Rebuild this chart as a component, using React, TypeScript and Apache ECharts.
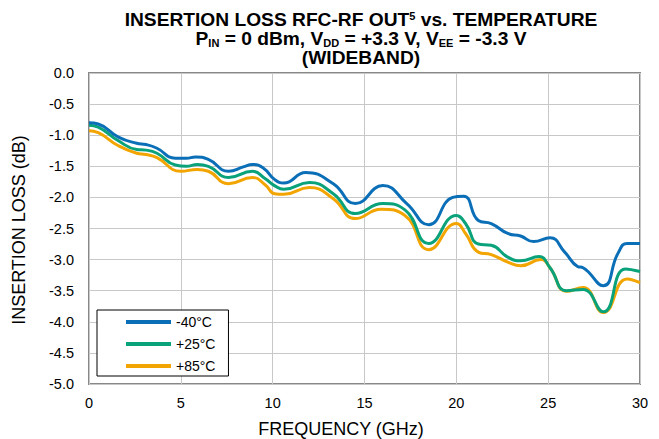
import React, { useEffect, useRef } from "react";
import * as echarts from "echarts";

const xTicks = [0, 5, 10, 15, 20, 25, 30];
const yTickLabels = ["0.0", "-0.5", "-1.0", "-1.5", "-2.0", "-2.5", "-3.0", "-3.5", "-4.0", "-4.5", "-5.0"];
const seriesNames = ["-40°C", "+25°C", "+85°C"];
const seriesColors = ["#0b6fb8", "#0aa27a", "#f2a500"];
const xAxisName = "FREQUENCY (GHz)";
const yAxisName = "INSERTION LOSS (dB)";

const minus40: [number, number][] = [
  [0, -0.80], [0.5, -0.82], [1.6, -1.03], [2.6, -1.13], [3.1, -1.15], [3.7, -1.21], [4.7, -1.37],
  [5.3, -1.37], [5.8, -1.35], [6.5, -1.39], [7.6, -1.58], [8.4, -1.51], [8.9, -1.47],
  [9.5, -1.53], [10.1, -1.71], [10.6, -1.77], [11.8, -1.6], [13.3, -1.78], [14.5, -2.1],
  [16.0, -1.81], [17.3, -2.1], [18.5, -2.44], [19.8, -2.0], [20.4, -1.98], [21.2, -2.37],
  [21.9, -2.42], [22.8, -2.58], [23.5, -2.62], [24.2, -2.71], [25.1, -2.65], [25.9, -2.88],
  [26.6, -3.11], [26.9, -3.13], [28.0, -3.42], [28.8, -2.90], [29.3, -2.74], [30, -2.74],
];

const plus25: [number, number][] = [
  [0, -0.84], [0.5, -0.87], [1.6, -1.09], [2.6, -1.23], [3.1, -1.24], [3.7, -1.29], [4.7, -1.48],
  [5.3, -1.5], [5.9, -1.47], [6.5, -1.5], [7.6, -1.68], [8.9, -1.58], [9.6, -1.7],
  [10.1, -1.81], [10.6, -1.87], [12.0, -1.76], [13.3, -1.94], [14.5, -2.26], [16.0, -2.1],
  [17.2, -2.2], [18.5, -2.74], [20.0, -2.29], [20.5, -2.42], [21.2, -2.75], [21.9, -2.77],
  [22.8, -2.96], [23.5, -3.02], [24.5, -2.95], [25.1, -3.13], [26.0, -3.5], [26.9, -3.48],
  [28.0, -3.84], [29.2, -3.15], [30, -3.19],
];

const plus85: [number, number][] = [
  [0, -0.93], [0.5, -0.96], [1.6, -1.17], [2.6, -1.29], [3.1, -1.31], [3.7, -1.36], [5.0, -1.58],
  [5.9, -1.55], [6.5, -1.58], [7.6, -1.78], [8.9, -1.68], [9.6, -1.8],
  [10.1, -1.94], [10.6, -1.95], [12.0, -1.84], [13.3, -2.02], [14.5, -2.34], [15.9, -2.19],
  [17.2, -2.29], [18.5, -2.84], [20.0, -2.42], [20.5, -2.58], [21.2, -2.88], [21.9, -2.92],
  [22.8, -3.04], [23.5, -3.1], [24.6, -3.0], [25.1, -3.13], [26.0, -3.51], [26.9, -3.45],
  [28.0, -3.85], [29.3, -3.31], [30, -3.37],
];

const seriesData = [minus40, plus25, plus85];

export default function App() {
  const ref = useRef<HTMLDivElement>(null);
  useEffect(() => {
    if (!ref.current) return;
    const chart = echarts.init(ref.current, null, { renderer: "svg" });
    const font = "Liberation Sans, Arial, sans-serif";
    chart.setOption({
      animation: false,
      textStyle: { fontFamily: font },
      title: {
        left: 356,
        top: 5,
        textAlign: "center",
        text:
          "{b|INSERTION LOSS RFC-RF OUT}{sup|5}{b| vs. TEMPERATURE}\n" +
          "{b|P}{sub|IN}{b| = 0 dBm, V}{sub|DD}{b| = +3.3 V, V}{sub|EE}{b| = -3.3 V}\n" +
          "{b|(WIDEBAND)}",
        textStyle: {
          align: "center",
          rich: {
            b: { fontFamily: font, fontWeight: "bold", fontSize: 19.2, color: "#000", lineHeight: 19 },
            sup: { fontFamily: font, fontWeight: "bold", fontSize: 11, color: "#000", padding: [0, 0, 7, 0] },
            sub: { fontFamily: font, fontWeight: "bold", fontSize: 11, color: "#000", padding: [8, 0, 0, 0] },
          },
        },
      },
      graphic: [
        {
          type: "text",
          x: 341,
          y: 429,
          style: {
            text: xAxisName,
            font: `18px ${font}`,
            fill: "#000",
            align: "center",
            verticalAlign: "middle",
          },
        },
        {
          type: "text",
          x: 19,
          y: 230,
          rotation: Math.PI / 2,
          style: {
            text: yAxisName,
            font: `18px ${font}`,
            fill: "#000",
            align: "center",
            verticalAlign: "middle",
          },
        },
      ],
      grid: {
        left: 89,
        top: 73,
        right: 19,
        bottom: 55,
        show: true,
        borderColor: "#888",
        borderWidth: 2,
        outerBoundsMode: "none",
        containLabel: false,
      },
      legend: {
        orient: "vertical",
        left: 97,
        top: 310,
        itemWidth: 45,
        itemHeight: 4,
        itemGap: 8,
        icon: "rect",
        padding: [5, 13, 3, 29],
        borderColor: "#000",
        borderWidth: 1,
        backgroundColor: "#fff",
        textStyle: { fontFamily: font, fontSize: 14, color: "#000" },
        data: seriesNames,
      },
      xAxis: {
        type: "value",
        min: 0,
        max: 30,
        interval: 5,
        axisLine: { show: false },
        axisTick: { show: false },
        axisLabel: {
          fontFamily: font,
          fontSize: 14.5,
          color: "#000",
          margin: 11,
          formatter: (v: number) => (xTicks.includes(v) ? String(v) : ""),
        },
        splitLine: { show: true, lineStyle: { color: "#c8c8c8", width: 1 } },
      },
      yAxis: {
        type: "value",
        min: -5,
        max: 0,
        interval: 0.5,
        axisLine: { show: false },
        axisTick: { show: false },
        axisLabel: {
          fontFamily: font,
          fontSize: 14.5,
          color: "#000",
          margin: 15,
          formatter: (v: number) => {
            const idx = Math.round(-v / 0.5);
            return yTickLabels[idx] ?? "";
          },
        },
        splitLine: { show: true, lineStyle: { color: "#c8c8c8", width: 1 } },
      },
      series: seriesNames.map((n, i) => ({
        name: n,
        type: "line",
        data: seriesData[i],
        smooth: 0.5,
        showSymbol: false,
        symbol: "none",
        color: seriesColors[i],
        lineStyle: { width: 3, color: seriesColors[i] },
        z: 3 - i,
      })),
    });
    return () => chart.dispose();
  }, []);
  return <div ref={ref} style={{ width: 659, height: 439, position: "absolute", left: 0, top: 0 }} />;
}
